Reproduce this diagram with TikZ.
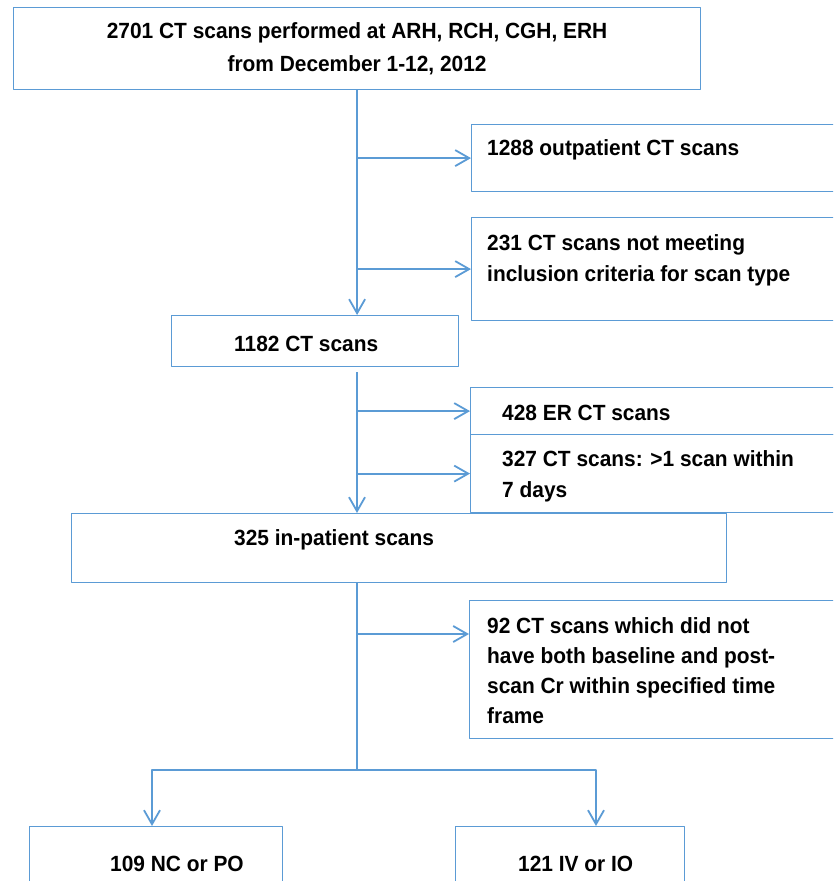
\documentclass[tikz,border=0pt]{standalone}
\usepackage{fontspec}
\setmainfont{Liberation Sans}[FakeStretch=0.95]
\usepackage{tikz}
\usetikzlibrary{calc}
\usetikzlibrary{arrows.meta}
\definecolor{ududff}{rgb}{0.357,0.608,0.835}
\tikzstyle{every node}=[font=\fontsize{22}{31}\selectfont\bfseries]
\tikzstyle{box}=[draw=ududff,line width=1.2pt,inner sep=0pt,anchor=north west]
\tikzstyle{txt}=[inner sep=0pt,align=left,anchor=base west]
\tikzstyle{link}=[draw=ududff,line width=1.8pt]
\begin{document}
\begin{tikzpicture}[line cap=butt,line join=round,>={Straight Barb[length=14pt,width=16pt]},x=1pt,y=-1pt]
            \useasboundingbox (0,0) rectangle (833,881);
            \clip(0,0) rectangle (833,881);
            \node[box,minimum width=687pt,minimum height=82pt,align=center,font=\fontsize{22}{33}\selectfont\bfseries] (all) at (13,7) {2701 CT scans performed at ARH, RCH, CGH, ERH\\from December 1-12, 2012};
            \node[box,minimum width=369pt,minimum height=67pt] (outp) at (471,124) {};
            \node[txt] (outpt) at (487,155) {1288 outpatient CT scans};
            \node[box,minimum width=369pt,minimum height=103pt] (crit) at (471,217) {};
            \node[txt] (critt) at (487,281) {231 CT scans not meeting\\inclusion criteria for scan type};
            \node[box,minimum width=287pt,minimum height=51pt] (sel) at (171,315) {};
            \node[txt] (selt) at (234,351) {1182 CT scans};
            \node[box,minimum width=370pt,minimum height=47pt] (er) at (470,387) {};
            \node[txt] (ert) at (502,420) {428 ER CT scans};
            \node[box,minimum width=370pt,minimum height=78pt] (rep) at (470,434) {};
            \node[txt] (rept) at (502,497) {327 CT scans: >1 scan within\\7 days};
            \node[box,minimum width=655pt,minimum height=69pt] (inp) at (71,513) {};
            \node[txt] (inpt) at (234,545) {325 in-patient scans};
            \node[box,minimum width=371pt,minimum height=138pt] (cr) at (469,600) {};
            \node[txt,font=\fontsize{22}{30}\selectfont\bfseries] (crt) at (487,723) {92 CT scans which did not\\have both baseline and post-\\scan Cr within specified time\\frame};
            \node[box,minimum width=253pt,minimum height=80pt] (nc) at (29,826) {};
            \node[txt] (nct) at (110,871) {109 NC or PO};
            \node[box,minimum width=229pt,minimum height=80pt] (iv) at (455,826) {};
            \node[txt] (ivt) at (518,871) {121 IV or IO};
            % trunk from the top box
            \draw [->,link] (all.south) -- (all.south |- sel.north);
            \draw [->,link] (all.south |- outp.west) -- (outp.west);
            \draw [->,link] (all.south |- crit.west) -- (crit.west);
            % trunk from 1182
            \coordinate (s2) at (357,372);
            \draw [->,link] (s2) -- (s2 |- inp.north);
            \draw [->,link] (s2 |- er.west) -- (er.west);
            \draw [->,link] (s2 |- rep.west) -- (rep.west);
            % trunk from 325
            \coordinate (split) at (357,770);
            \coordinate (crin) at ($(cr.north west)+(0,34)$);
            \coordinate (ncin) at (152,826);
            \coordinate (ivin) at (596,826);
            \draw [link] (inp.south -| s2) -- (split);
            \draw [->,link] (split |- crin) -- (crin);
            \draw [->,link] (split) -| (ncin);
            \draw [->,link] (split) -| (ivin);
\end{tikzpicture}
\end{document}
